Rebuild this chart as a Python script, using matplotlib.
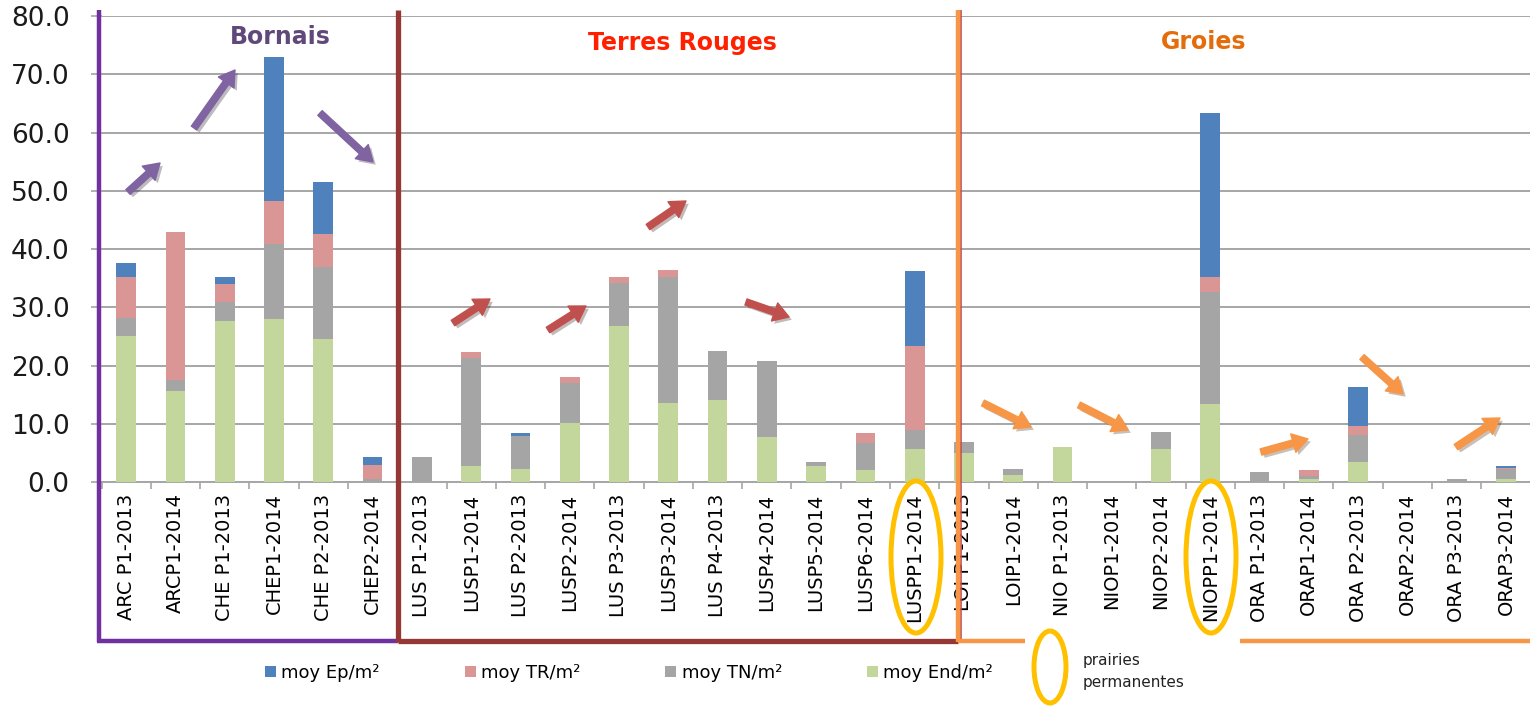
import numpy as np
import matplotlib
matplotlib.use("Agg")
import matplotlib.pyplot as plt
from matplotlib.lines import Line2D
from matplotlib.patches import Ellipse
import matplotlib.patheffects as pe

# categories (stations / years)
labels = ["ARC P1-2013", "ARCP1-2014", "CHE P1-2013", "CHEP1-2014", "CHE P2-2013", "CHEP2-2014",
          "LUS P1-2013", "LUSP1-2014", "LUS P2-2013", "LUSP2-2014", "LUS P3-2013", "LUSP3-2014",
          "LUS P4-2013", "LUSP4-2014", "LUSP5-2014", "LUSP6-2014", "LUSPP1-2014",
          "LOI P1-2013", "LOIP1-2014", "NIO P1-2013", "NIOP1-2014", "NIOP2-2014", "NIOPP1-2014",
          "ORA P1-2013", "ORAP1-2014", "ORA P2-2013", "ORAP2-2014", "ORA P3-2013", "ORAP3-2014"]

# stacked values, bottom to top
end_m2 = [25.1, 15.7, 27.6, 28.0, 24.6, 0.0,
          0.0, 2.8, 2.3, 10.1, 26.8, 13.6, 14.1, 7.8, 2.8, 2.1, 5.7,
          5.1, 1.3, 6.1, 0.0, 5.7, 13.4,
          0.0, 0.6, 3.4, 0.0, 0.0, 0.6]
tn_m2 = [3.1, 1.8, 3.3, 12.9, 12.3, 0.5,
         4.4, 18.6, 5.7, 6.9, 7.4, 21.7, 8.5, 13.0, 0.6, 4.6, 3.3,
         1.8, 1.0, 0.0, 0.0, 2.9, 19.2,
         1.7, 0.4, 4.7, 0.0, 0.6, 1.7]
tr_m2 = [7.1, 25.5, 3.2, 7.4, 5.7, 2.5,
         0.0, 1.0, 0.0, 1.0, 1.1, 1.1, 0.0, 0.0, 0.0, 1.7, 14.4,
         0.0, 0.0, 0.0, 0.0, 0.0, 2.7,
         0.0, 1.1, 1.6, 0.0, 0.0, 0.2]
ep_m2 = [2.3, 0.0, 1.2, 24.6, 9.0, 1.4,
         0.0, 0.0, 0.4, 0.0, 0.0, 0.0, 0.0, 0.0, 0.0, 0.0, 12.9,
         0.0, 0.0, 0.0, 0.0, 0.0, 28.0,
         0.0, 0.0, 6.6, 0.0, 0.0, 0.3]

W, H = 1530, 709


def fx(x):
    return x / W


def fy(y):
    return 1 - y / H


fig = plt.figure(figsize=(W / 100, H / 100), dpi=100)
ax = fig.add_axes([fx(101.6), fy(482.3), (1530.6 - 101.6) / W, (482.3 - 16) / H])

x = np.arange(len(labels))
bw = 0.4
c_end, c_tn, c_tr, c_ep = "#C3D69B", "#A5A5A5", "#D99694", "#4F81BD"
b1 = ax.bar(x, end_m2, bw, color=c_end, label="moy End/m²", zorder=3)
bot = np.array(end_m2)
b2 = ax.bar(x, tn_m2, bw, bottom=bot, color=c_tn, label="moy TN/m²", zorder=3)
bot = bot + np.array(tn_m2)
b3 = ax.bar(x, tr_m2, bw, bottom=bot, color=c_tr, label="moy TR/m²", zorder=3)
bot = bot + np.array(tr_m2)
b4 = ax.bar(x, ep_m2, bw, bottom=bot, color=c_ep, label="moy Ep/m²", zorder=3)

ax.set_xlim(-0.5, len(labels) - 0.5)
ax.set_ylim(0, 80)
ax.set_yticks(np.arange(0, 81, 10))
ax.set_yticklabels(["%.1f" % v for v in np.arange(0, 81, 10)], fontsize=19, color="#1a1a1a")
ax.yaxis.grid(True, color="#A6A6A6", lw=1.4, zorder=0)
ax.tick_params(axis="y", length=8, width=1.2, color="#A6A6A6", pad=15)

ax.set_xticks(x)
ax.set_xticklabels(labels, rotation=90, fontsize=14, va="top")
ax.set_xticks(np.arange(-0.5, len(labels), 1), minor=True)
ax.tick_params(axis="x", which="major", length=0, pad=8)
ax.tick_params(axis="x", which="minor", length=5, width=1.2, color="#A6A6A6")
for s in ["top", "right", "left"]:
    ax.spines[s].set_visible(False)
ax.spines["bottom"].set_color("#A6A6A6")
ax.spines["bottom"].set_linewidth(1.4)


def seg(x0, y0, x1, y1, color, lw):
    fig.add_artist(Line2D([fx(x0), fx(x1)], [fy(y0), fy(y1)], color=color, lw=lw,
                          transform=fig.transFigure, solid_capstyle="butt", zorder=10))


# region boxes
seg(99, 10, 99, 642, "#7030A0", 3.2)
seg(97, 641, 398, 641, "#7030A0", 3.2)
seg(398, 10, 398, 642, "#953735", 3.8)
seg(398, 641, 958, 641, "#953735", 3.8)
seg(961, 10, 961, 642, "#C0504D", 1.2)
seg(958, 10, 958, 642, "#F79646", 3.2)
seg(958, 641, 1025, 641, "#F79646", 3.2)
seg(1240, 641, 1530, 641, "#F79646", 3.2)

# region titles
fig.text(fx(280), fy(37), "Bornais", color="#60497A", fontsize=17, fontweight="bold",
         ha="center", va="center")
fig.text(fx(682), fy(43), "Terres Rouges", color="#FF2000", fontsize=17, fontweight="bold",
         ha="center", va="center")
fig.text(fx(1204), fy(42), "Groies", color="#E46C0A", fontsize=17, fontweight="bold",
         ha="center", va="center")

# trend arrows (tail, head) in picture pixels
arrows = [
    ((128, 192), (160, 163), "#8064A2"),
    ((194, 128), (235, 70), "#8064A2"),
    ((320, 113), (373, 162), "#8064A2"),
    ((453, 323), (490, 299), "#C0504D"),
    ((548, 330), (586, 306), "#C0504D"),
    ((648, 227), (686, 201), "#C0504D"),
    ((746, 302), (789, 317), "#C0504D"),
    ((983, 403), (1031, 427), "#F79646"),
    ((1079, 405), (1128, 430), "#F79646"),
    ((1261, 452), (1308, 439), "#F79646"),
    ((1362, 357), (1403, 394), "#F79646"),
    ((1456, 447), (1500, 418), "#F79646"),
]
for (t, h, c) in arrows:
    ann = ax.annotate("", xy=(fx(h[0]), fy(h[1])), xycoords="figure fraction",
                      xytext=(fx(t[0]), fy(t[1])), textcoords="figure fraction",
                      arrowprops=dict(arrowstyle="simple,head_length=1.0,head_width=1.25,tail_width=0.42",
                                      color=c, mutation_scale=11, shrinkA=0, shrinkB=0),
                      annotation_clip=False, zorder=11)
    ann.arrow_patch.set_path_effects([pe.SimplePatchShadow(offset=(2, -2), alpha=0.3), pe.Normal()])

# permanent meadows
for cx in (916, 1211):
    fig.add_artist(Ellipse((fx(cx), fy(557)), 50 / W, 152 / H, fill=False, ec="#FFC000", lw=3.6,
                           transform=fig.transFigure, zorder=12))
fig.add_artist(Ellipse((fx(1050), fy(667)), 32 / W, 72 / H, fill=False, ec="#FFC000", lw=3.6,
                       transform=fig.transFigure, zorder=12))
fig.text(fx(1083), fy(660), "prairies", fontsize=11, color="#222222", va="center")
fig.text(fx(1083), fy(683), "permanentes", fontsize=11, color="#222222", va="center")

fig.legend([b4, b3, b2, b1], ["moy Ep/m²", "moy TR/m²", "moy TN/m²", "moy End/m²"],
           loc="center", bbox_to_anchor=(fx(629), fy(673)), ncol=4, frameon=False,
           fontsize=13, handlelength=0.6, handleheight=0.6, handletextpad=0.3,
           columnspacing=4.7)

fig.savefig("out.png", dpi=100)
